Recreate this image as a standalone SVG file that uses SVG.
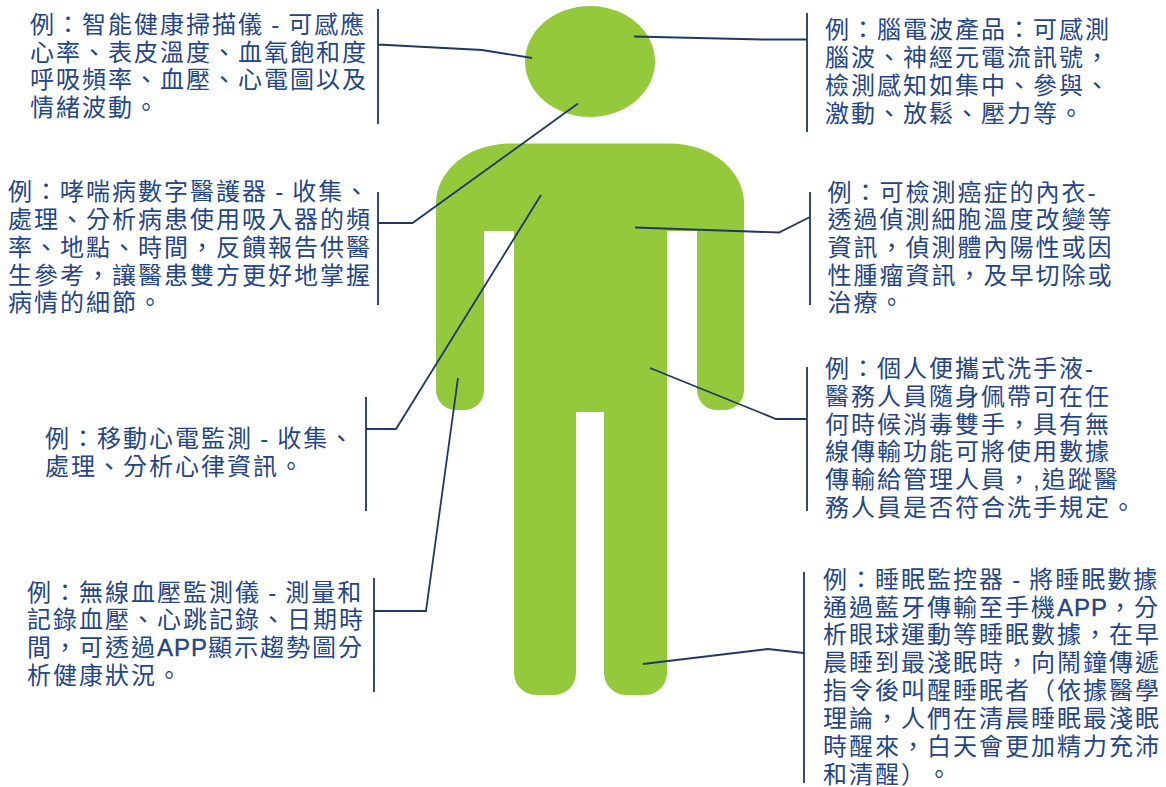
<svg xmlns="http://www.w3.org/2000/svg" width="1166" height="787" viewBox="0 0 1166 787">
<style>
.t{font-family:"Liberation Sans","Noto Sans CJK TC",sans-serif;font-size:24px;letter-spacing:2px;word-spacing:-1.500px;text-spacing-trim:space-all;fill:#244686}
.a{letter-spacing:1px;stroke:#244686;stroke-width:.4px}
.c{fill:none;stroke:#1f3864;stroke-width:1.800}
.f{fill:#94c93c}
</style>
<rect width="1166" height="787" fill="#fff"/>
<g id="figure">
<ellipse class="f" cx="590" cy="61.500" rx="65" ry="55.500"/>
<path class="f" d="M510 143.500H670A74 60 0 0 1 744 203.500V390A20 20 0 0 1 724 410H717A20 20 0 0 1 697 390V231H667V673A22 22 0 0 1 645 695H626A22 22 0 0 1 604 673V412H576V673A22 22 0 0 1 554 695H536A22 22 0 0 1 514 673V231H484V390A20 20 0 0 1 464 410H456A20 20 0 0 1 436 390V203.500A74 60 0 0 1 510 143.500Z"/>
</g>
<g id="connectors">
<path class="c" d="M378 9V124M378 44.500L482 50L532 58"/>
<path class="c" d="M378 192V305M378 223H412.500L578 103.500"/>
<path class="c" d="M366 397V511M366 429H396L541 195"/>
<path class="c" d="M374 578V692M374 611H426L458 378"/>
<path class="c" d="M807 13V132M634 36.500L762 39.500H807"/>
<path class="c" d="M810 192V305M635 227.500L779 232.500L810 217"/>
<path class="c" d="M807 367V511M650 368L776 419H807"/>
<path class="c" d="M804 572V783M643 664L768 649L804 653"/>
</g>
<g id="n1" class="t"><text x="30" y="33">例：智能健康掃描儀 - 可感應</text><text x="30" y="61">心率、表皮溫度、血氧飽和度</text><text x="30" y="88">呼吸頻率、血壓、心電圖以及</text><text x="30" y="116">情緒波動。</text></g>
<g id="n2" class="t"><text x="8" y="200">例：哮喘病數字醫護器 - 收集、</text><text x="8" y="228">處理、分析病患使用吸入器的頻</text><text x="8" y="256">率、地點、時間，反饋報告供醫</text><text x="8" y="284">生參考，讓醫患雙方更好地掌握</text><text x="8" y="311">病情的細節。</text></g>
<g id="n3" class="t"><text x="45" y="447">例：移動心電監測 - 收集、</text><text x="45" y="475">處理、分析心律資訊。</text></g>
<g id="n4" class="t"><text x="27" y="601">例：無線血壓監測儀 - 測量和</text><text x="27" y="628">記錄血壓、心跳記錄、日期時</text><text x="27" y="656">間，可透過<tspan class="a">APP</tspan>顯示趨勢圖分</text><text x="27" y="684">析健康狀況。</text></g>
<g id="n5" class="t"><text x="825" y="38">例：腦電波產品：可感測</text><text x="825" y="66">腦波、神經元電流訊號，</text><text x="825" y="94">檢測感知如集中、參與、</text><text x="825" y="122">激動、放鬆、壓力等。</text></g>
<g id="n6" class="t"><text x="827.500" y="201">例：可檢測癌症的內衣-</text><text x="827.500" y="228">透過偵測細胞溫度改變等</text><text x="827.500" y="256">資訊，偵測體內陽性或因</text><text x="827.500" y="284">性腫瘤資訊，及早切除或</text><text x="827.500" y="311">治療。</text></g>
<g id="n7" class="t"><text x="825" y="377">例：個人便攜式洗手液-</text><text x="825" y="405">醫務人員隨身佩帶可在任</text><text x="825" y="433">何時候消毒雙手，具有無</text><text x="825" y="460">線傳輸功能可將使用數據</text><text x="825" y="488">傳輸給管理人員，,追蹤醫</text><text x="825" y="516">務人員是否符合洗手規定。</text></g>
<g id="n8" class="t"><text x="823" y="588">例：睡眠監控器 - 將睡眠數據</text><text x="823" y="616">通過藍牙傳輸至手機<tspan class="a">APP</tspan>，分</text><text x="823" y="643">析眼球運動等睡眠數據，在早</text><text x="823" y="671">晨睡到最淺眠時，向鬧鐘傳遞</text><text x="823" y="699">指令後叫醒睡眠者（依據醫學</text><text x="823" y="727">理論，人們在清晨睡眠最淺眠</text><text x="823" y="755">時醒來，白天會更加精力充沛</text><text x="823" y="783">和清醒）。</text></g>
</svg>
